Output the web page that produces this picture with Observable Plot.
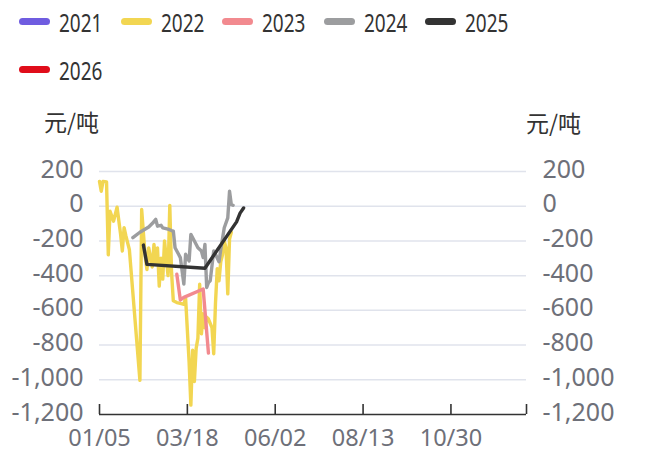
<!DOCTYPE html>
<html><head><meta charset="utf-8">
<script src="https://cdn.jsdelivr.net/npm/d3@7"></script>
<script src="https://cdn.jsdelivr.net/npm/@observablehq/plot@0.6"></script>
<style>
body{margin:0;background:#fff;width:653px;height:453px;overflow:hidden;}
#legend{position:relative;height:90px;}
.item{position:absolute;display:flex;align-items:center;height:30px;}
.sw{width:31px;height:7px;border-radius:3.5px;}
.lab{display:inline-block;margin-left:9px;font-size:25px;font-family:"Noto Sans",sans-serif;color:#333;transform:scaleX(0.76);transform-origin:left center;}
#chart svg{display:block;}
</style></head><body>
<div id="legend"></div><div id="chart"></div>
<script>
const years = ["2021","2022","2023","2024","2025","2026"];
const colors = ["#6f5ce0","#f2d652","#f28a8f","#9c9d9f","#333333","#e00d1a"];
const tickIdx = [0,50,100,150,200];
const tickLabels = ["01/05","03/18","06/02","08/13","10/30"];
const lastIdx = 243;
const yTicks = [200,0,-200,-400,-600,-800,-1000,-1200];
const unit = "元/吨";

const idx2021 = [];
const val2021 = [];
const idx2022 = [0,1,2,4,5,6,8,10,12,13,14,15,17,23,24,26,27,28,30,31,32,33,34,35,36,37,39,40,41,42,44,46,48,49,51,52,53,54,55,56,57,58,59,60,61,62,64,65,66,67,68,69,70,71,72,73,74,75];
const val2022 = [143,86,143,140,-280,-29,-86,-6,-162,-258,-124,-170,-250,-1003,-19,-290,-365,-240,-350,-220,-330,-240,-460,-300,-420,-200,-400,5,-380,-545,-555,-560,-565,-530,-900,-1146,-830,-1010,-820,-760,-450,-735,-620,-700,-640,-650,-700,-850,-560,-360,-430,-320,-280,-200,-240,-505,-190,-150];
const idx2023 = [44,46,48,59,62];
const val2023 = [-392,-540,-525,-477,-846];
const idx2024 = [19,23,28,30,32,33,35,36,39,41,42,43,45,46,48,49,51,52,54,56,58,59,60,61,62,63,65,66,68,69,71,73,74,75,76];
const val2024 = [-181,-150,-120,-100,-76,-115,-110,-125,-132,-140,-143,-239,-277,-296,-449,-277,-315,-162,-200,-239,-258,-296,-220,-468,-440,-430,-258,-277,-320,-250,-124,-67,86,10,5];
const idx2025 = [25,27,60,78,80,82];
const val2025 = [-224,-335,-357,-90,-40,-10];
const idx2026 = [];
const val2026 = [];

const series = [[idx2021,val2021],[idx2022,val2022],[idx2023,val2023],[idx2024,val2024],[idx2025,val2025],[idx2026,val2026]];
const rows = [];
series.forEach(([ix, vs], k) => ix.forEach((x, i) => rows.push({year: years[k], idx: x, value: vs[i]})));

// legend
const legend = document.getElementById("legend");
const perRow = 5;
years.forEach((y, i) => {
  const r = Math.floor(i / perRow), c = i % perRow;
  const it = document.createElement("div");
  it.className = "item";
  it.style.left = (19.3 + c * 101.4) + "px";
  it.style.top = (21.5 + r * 48 - 15) + "px";
  it.innerHTML = `<div class="sw" style="background:${colors[i]}"></div><span class="lab">${y}</span>`;
  legend.appendChild(it);
});

const fmt = d => d.toLocaleString("en-US");
const axisFont = 25;
const chart = Plot.plot({
  width: 653, height: 363,
  marginTop: 81, marginBottom: 39, marginLeft: 99, marginRight: 127,
  style: {fontFamily: '"Noto Sans", sans-serif', background: "#fff", color: "#6e7079", overflow: "visible"},
  x: {domain: [0, lastIdx]},
  y: {domain: [-1200, 200]},
  color: {domain: years, range: colors},
  marks: [
    Plot.ruleY(yTicks.filter(v => v > -1200), {stroke: "#e0e3ec", strokeWidth: 1.5}),
    Plot.axisY({anchor: "left", ticks: yTicks, tickSize: 0, tickPadding: 16, tickFormat: fmt, fontSize: axisFont, label: null, dy: -2}),
    Plot.axisY({anchor: "right", ticks: yTicks, tickSize: 0, tickPadding: 16, tickFormat: fmt, fontSize: axisFont, label: null, dy: -2}),
    Plot.axisX({ticks: tickIdx, tickFormat: d => tickLabels[tickIdx.indexOf(d)], tickSize: 0, tickPadding: 15, fontSize: 23.5, label: null}),
    Plot.line(rows, {x: "idx", y: "value", z: "year", stroke: "year", strokeWidth: 3.4, strokeLinejoin: "round"}),
    Plot.ruleY([-1200], {stroke: "#333", strokeWidth: 1.6}),
    Plot.ruleX([...tickIdx, lastIdx], {stroke: "#333", strokeWidth: 1.6, insetTop: 233}),
    Plot.text([unit], {frameAnchor: "top-left", textAnchor: "middle", lineAnchor: "middle", dx: -28, dy: -48, fontSize: 23, fill: "#333", fontFamily: '"Noto Sans CJK SC", sans-serif'}),
    Plot.text([unit], {frameAnchor: "top-right", textAnchor: "middle", lineAnchor: "middle", dx: 27, dy: -47, fontSize: 23, fill: "#333", fontFamily: '"Noto Sans CJK SC", sans-serif'})
  ]
});
document.getElementById("chart").appendChild(chart);
</script>
</body></html>
